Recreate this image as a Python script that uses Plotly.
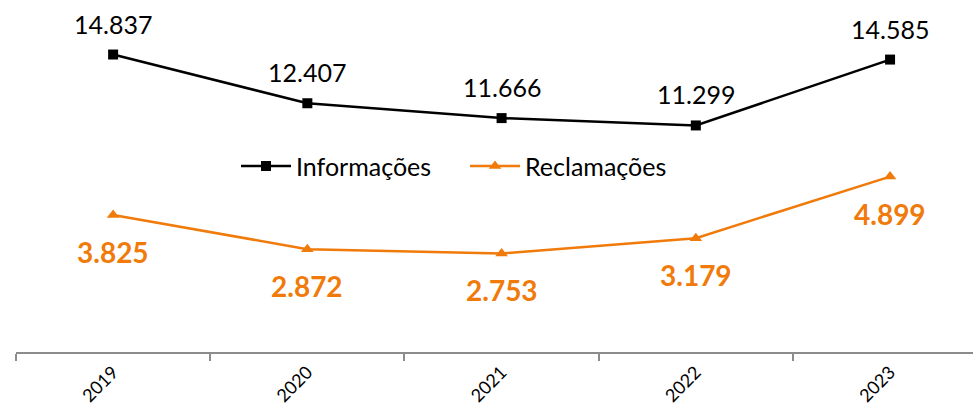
import plotly.graph_objects as go

years = ["2019", "2020", "2021", "2022", "2023"]
informacoes = [14837, 12407, 11666, 11299, 14585]
reclamacoes = [3825, 2872, 2753, 3179, 4899]
info_labels = ["14.837", "12.407", "11.666", "11.299", "14.585"]
recl_labels = ["3.825", "2.872", "2.753", "3.179", "4.899"]

ORANGE = "#F07A0A"
FONT = "Lato, Noto Sans, sans-serif"

fig = go.Figure()
fig.add_trace(go.Scatter(
    x=years, y=informacoes, name="Informações", yaxis="y2",
    mode="lines+markers",
    line=dict(color="black", width=2.5),
    marker=dict(symbol="square", size=10, color="black"),
    cliponaxis=False,
))
fig.add_trace(go.Scatter(
    x=years, y=reclamacoes, name="Reclamações", yaxis="y",
    mode="lines+markers",
    line=dict(color=ORANGE, width=2.5),
    marker=dict(symbol="triangle-up", size=11, color=ORANGE),
    cliponaxis=False,
))

annotations = []
for i, (v, t) in enumerate(zip(informacoes, info_labels)):
    annotations.append(dict(x=i, y=v, xref="x", yref="y2", text=t, showarrow=False,
                            yshift=31, font=dict(family=FONT, size=25, color="black")))
for i, (v, t) in enumerate(zip(reclamacoes, recl_labels)):
    annotations.append(dict(x=i, y=v, xref="x", yref="y", text="<b>" + t + "</b>", showarrow=False,
                            yshift=-37, font=dict(family=FONT, size=28, color=ORANGE)))

fig.update_layout(
    width=973, height=409,
    margin=dict(l=16, r=0, t=0, b=57),
    paper_bgcolor="white", plot_bgcolor="white",
    font=dict(family=FONT, color="black"),
    showlegend=True,
    legend=dict(orientation="h", x=0.2299, y=0.528, xanchor="left", yanchor="middle",
                font=dict(size=25, family=FONT), bgcolor="rgba(0,0,0,0)", itemwidth=50,
                entrywidth=164, entrywidthmode="pixels"),
    xaxis=dict(type="category", range=[-0.5, 4.427], showgrid=False, zeroline=False,
               automargin=False,
               showline=True, linecolor="#8c8c8c", linewidth=1.5,
               ticks="outside", tickson="boundaries", ticklen=7, tickcolor="#8c8c8c", tickwidth=1.5,
               ticklabelstandoff=1,
               tickangle=-45, tickfont=dict(size=18, family=FONT, color="black")),
    yaxis=dict(range=[0, 9830], visible=False, showgrid=False, zeroline=False, automargin=False),
    yaxis2=dict(range=[0, 17556], visible=False, overlaying="y", side="right",
                showgrid=False, zeroline=False, automargin=False),
    annotations=annotations,
)

fig.write_html("out.html", config={"displayModeBar": False},
               post_script="document.body.style.margin='0px';")
